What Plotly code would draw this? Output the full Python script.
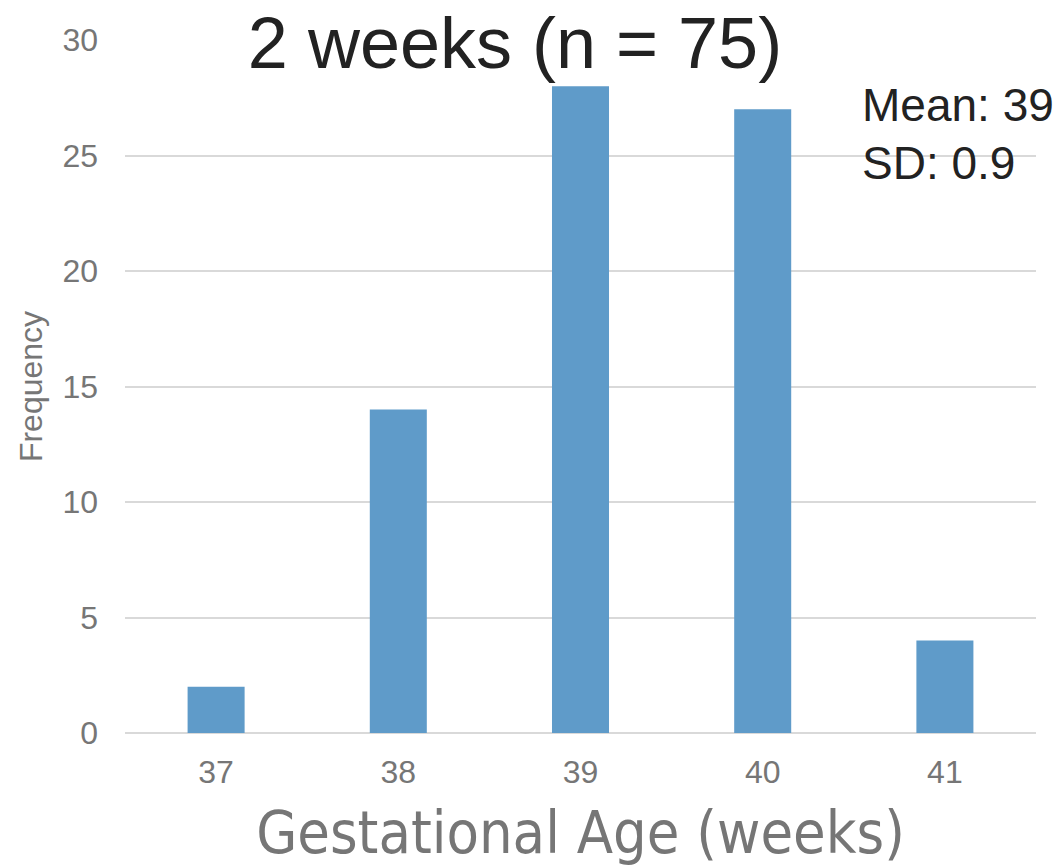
import plotly.graph_objects as go

weeks = ["37", "38", "39", "40", "41"]
frequency = [2, 14, 28, 27, 4]
y_ticks = [0, 5, 10, 15, 20, 25, 30]
title_text = "2 weeks (n = 75)"
stats_lines = ["Mean: 39", "SD: 0.9"]
x_title = "Gestational Age (weeks)"
y_title = "Frequency"

W, H = 1064, 867
L, R, T, B = 125, 28, 40, 134
PW, PH = W - L - R, H - T - B

fig = go.Figure(
    go.Bar(
        x=weeks,
        y=frequency,
        marker=dict(color="#5F9BC9", line=dict(width=0)),
        hoverinfo="x+y",
    )
)

fig.update_layout(
    width=W,
    height=H,
    margin=dict(l=L, r=R, t=T, b=B, autoexpand=False),
    paper_bgcolor="white",
    plot_bgcolor="white",
    bargap=0.687,
    showlegend=False,
    font=dict(family="Liberation Sans, Arial, sans-serif", color="#767676"),
    title=dict(
        text=title_text,
        font=dict(size=72, color="#222222", family="Liberation Sans, Arial, sans-serif"),
        x=515 / W,
        xanchor="center",
        xref="container",
        y=1 - 43 / H,
        yanchor="middle",
        yref="container",
    ),
)

fig.update_xaxes(
    type="category",
    showgrid=False,
    showline=False,
    zeroline=False,
    ticks="",
    tickfont=dict(size=32, color="#767676"),
    ticklabelstandoff=17,
    title=dict(
        text=x_title,
        font=dict(size=59, color="#767676",
                  family="Liberation Sans Narrow, DejaVu Sans Condensed, Arial Narrow, sans-serif"),
        standoff=28,
    ),
    automargin=False,
)

fig.update_yaxes(
    range=[0, 30],
    tickvals=y_ticks,
    showgrid=True,
    gridcolor="#D9D9D9",
    gridwidth=1.5,
    zeroline=True,
    zerolinecolor="#D9D9D9",
    zerolinewidth=1.5,
    showline=False,
    ticks="",
    tickfont=dict(size=32, color="#767676"),
    ticklabelstandoff=26,
    title=dict(
        text=y_title,
        font=dict(size=32, color="#767676"),
        standoff=10,
    ),
    automargin=False,
)

for line, ymid in zip(stats_lines, [105, 163]):
    fig.add_annotation(
        text=line,
        xref="paper",
        yref="paper",
        x=(860 - L) / PW,
        y=(H - B - ymid) / PH,
        xanchor="left",
        yanchor="middle",
        align="left",
        showarrow=False,
        font=dict(size=46, color="#222222", family="Liberation Sans, Arial, sans-serif"),
    )

fig.write_html("out.html")
